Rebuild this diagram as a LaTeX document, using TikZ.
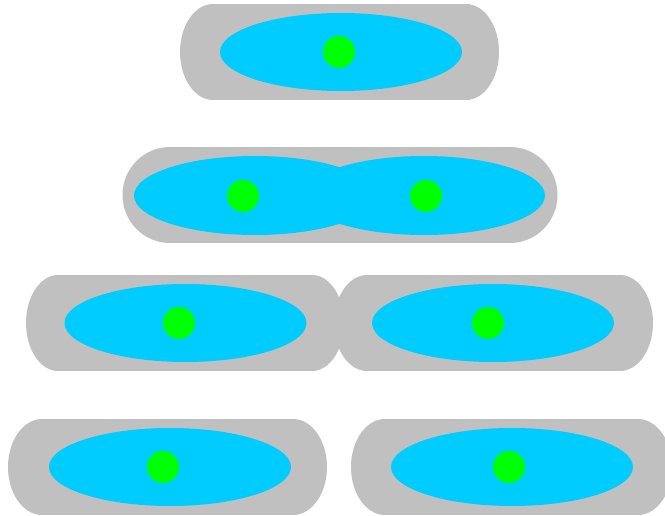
\documentclass[tikz,border=0pt]{standalone}
\begin{document}
\begin{tikzpicture}[x=1pt,y=-1pt,
  wall/.style={fill=wallgray,draw=none},
  body/.style={fill=bodyblue,draw=none},
  core/.style={fill=coregreen,draw=none}]
\definecolor{wallgray}{HTML}{C0C0C0}
\definecolor{bodyblue}{HTML}{00CCFF}
\definecolor{coregreen}{HTML}{00FF00}
\useasboundingbox (0,0) rectangle (665,516);
\clip (0,0) rectangle (665,516);
% capsule wall: rectangle from x1 to x2 with elliptic caps of half-width r, centred on y
\newcommand{\wallcell}[4]{%
  \fill[wall] (#1,#3-48) rectangle (#2,#3+48);
  \fill[wall] (#1,#3) ellipse [x radius=#4,y radius=48];
  \fill[wall] (#2,#3) ellipse [x radius=#4,y radius=48];}
% walls
\wallcell{213}{466}{52}{33}
\wallcell{170}{510}{195}{47.5}
\wallcell{58}{312}{323}{32}
\wallcell{367}{620}{323}{33}
\wallcell{42}{293}{467}{34}
\wallcell{385}{638}{467}{34}
% cell bodies
\fill[body] (341,52) ellipse [x radius=121,y radius=39];
\fill[body] (255,195.5) ellipse [x radius=121,y radius=39.5];
\fill[body] (424,195.5) ellipse [x radius=121,y radius=39.5];
\fill[body] (185.5,323) ellipse [x radius=121,y radius=39];
\fill[body] (493,323) ellipse [x radius=121,y radius=39];
\fill[body] (170,467) ellipse [x radius=121,y radius=39];
\fill[body] (512,467) ellipse [x radius=121,y radius=39];
% nuclei
\fill[core] (339,52) circle [radius=16];
\fill[core] (243,196) circle [radius=16];
\fill[core] (426,196) circle [radius=16];
\fill[core] (179,323) circle [radius=16];
\fill[core] (488,323) circle [radius=16];
\fill[core] (163,467) circle [radius=16];
\fill[core] (509,467) circle [radius=16];
\end{tikzpicture}
\end{document}
